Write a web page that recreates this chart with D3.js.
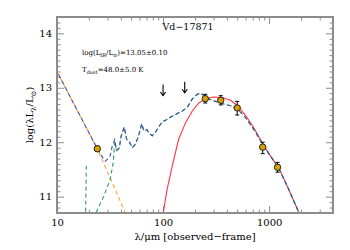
<!DOCTYPE html>
<html><head><meta charset="utf-8">
<script src="https://cdn.jsdelivr.net/npm/d3@7"></script>
<style>body{margin:0;background:#fff}svg{display:block}</style>
</head><body>
<svg id="c" width="350" height="250"></svg>
<script>
// ---- data ----
const title = "Vd\u221217871";
const xTicksMajor = [10, 100, 1000];
const yTicksMajor = [11, 12, 13, 14];

// photometry (observed-frame wavelength in micron, log luminosity)
const photWave = [24, 250, 350, 500, 870, 1200];
const photLum  = [11.88, 12.80, 12.77, 12.63, 11.91, 11.54];
const photErrUp = [0.05, 0.08, 0.085, 0.12, 0.09, 0.09];
const photErrLo = [0.05, 0.08, 0.085, 0.13, 0.12, 0.09];

// upper limits
const ulWave = [100, 160];
const ulLum  = [13.06, 13.11];

// total SED (blue dashed)
const totWave = [10, 15, 23.7, 26.5, 28.5, 30.4, 31.7, 33.1, 35.0, 36.5, 38.6, 40.3, 43.0, 45.4, 48.0, 51.2, 54.7, 58.4, 63.0, 65.8, 70.3, 74.2, 79.2, 84.6, 90.3, 98.5, 105, 117, 131, 151, 169, 188, 210, 225, 251, 280, 312, 361, 433, 505, 601, 715, 889, 1035, 1233, 1532, 1905];
const totLum  = [13.30, 12.64, 11.90, 11.74, 11.65, 11.70, 11.75, 11.92, 12.05, 11.85, 11.90, 12.12, 12.28, 12.05, 12.01, 11.90, 11.96, 12.10, 12.34, 12.21, 12.23, 12.16, 12.12, 12.18, 12.27, 12.38, 12.40, 12.46, 12.51, 12.57, 12.64, 12.79, 12.88, 12.90, 12.84, 12.78, 12.75, 12.71, 12.67, 12.61, 12.45, 12.24, 11.93, 11.74, 11.52, 11.13, 10.71];

// starburst template (green dashed); null marks a gap
const sbWave = [18.9, 18.8, 18.6, null, 23.4, 27.2, 31.7, 33.9, 35.0, 36.5, 38.6, 40.3, 43.0, 45.4, 48.0, 51.2, 54.7, 58.4, 63.0, 65.8, 70.3, 74.2, 79.2, 84.6, 90.3, 98.5, 105, 117, 131, 151, 169, 188, 210, 225, 251, 280, 312, 361, 433, 505, 601, 715, 889, 1035, 1233, 1532, 1905];
const sbLum  = [11.57, 11.20, 10.70, null, 10.71, 10.98, 11.31, 11.63, 12.01, 11.84, 11.89, 12.11, 12.28, 12.05, 12.01, 11.90, 11.96, 12.10, 12.34, 12.21, 12.23, 12.16, 12.12, 12.18, 12.27, 12.38, 12.40, 12.46, 12.51, 12.57, 12.64, 12.79, 12.88, 12.90, 12.84, 12.78, 12.75, 12.71, 12.67, 12.61, 12.45, 12.24, 11.93, 11.74, 11.52, 11.13, 10.71];

// AGN power law (orange dashed)
const agnWave = [10, 15, 23.7, 30, 38, 44];
const agnLum  = [13.30, 12.64, 11.90, 11.45, 10.99, 10.70];

// modified blackbody (red solid)
const bbWave = [100.6, 109, 122, 140, 163, 188, 217, 251, 301, 361, 433, 505, 601, 715, 889, 1035, 1233, 1532, 1905];
const bbLum  = [10.71, 11.13, 11.56, 12.05, 12.36, 12.57, 12.72, 12.80, 12.83, 12.82, 12.77, 12.67, 12.49, 12.27, 11.94, 11.74, 11.53, 11.13, 10.71];

// ---- drawing ----
const W = 350, H = 250;
const m = {l: 57, r: 17, t: 17, b: 37};
const svg = d3.select("#c");
const x = d3.scaleLog().domain([10, 4000]).range([m.l, W - m.r]);
const y = d3.scaleLinear().domain([10.7, 14.3]).range([H - m.b, m.t]);
const FONT = "'DejaVu Serif', 'Liberation Serif', serif";
const axCol = "#8c8c8c";

svg.append("defs").append("clipPath").attr("id", "clip")
  .append("rect").attr("x", m.l).attr("y", m.t)
  .attr("width", W - m.l - m.r).attr("height", H - m.t - m.b);

const xMinor = [];
[10, 100, 1000].forEach(d => { for (let k = 2; k <= 9; k++) if (d * k <= 4000) xMinor.push(d * k); });
const yMinor = d3.range(107, 144).map(v => v / 10).filter(v => Math.abs(v - Math.round(v)) > 1e-6);

function styleAxis(g) {
  g.select(".domain").remove();
  g.selectAll(".tick line").attr("stroke", axCol).attr("stroke-width", 1);
  g.selectAll("text").attr("font-family", FONT).attr("font-size", 10).attr("fill", "#000");
}
const pBot = H - m.b, pTop = m.t, pLeft = m.l, pRight = W - m.r;
// bottom
svg.append("g").attr("transform", `translate(0,${pBot})`)
  .call(d3.axisBottom(x).tickValues(xTicksMajor).tickFormat(d3.format("d")).tickSizeInner(-7).tickSizeOuter(0).tickPadding(6)).call(styleAxis);
svg.append("g").attr("transform", `translate(0,${pBot})`)
  .call(d3.axisBottom(x).tickValues(xMinor).tickFormat("").tickSizeInner(-3.5).tickSizeOuter(0)).call(styleAxis);
// top
svg.append("g").attr("transform", `translate(0,${pTop})`)
  .call(d3.axisTop(x).tickValues(xTicksMajor).tickFormat("").tickSizeInner(-7).tickSizeOuter(0)).call(styleAxis);
svg.append("g").attr("transform", `translate(0,${pTop})`)
  .call(d3.axisTop(x).tickValues(xMinor).tickFormat("").tickSizeInner(-3.5).tickSizeOuter(0)).call(styleAxis);
// left
svg.append("g").attr("transform", `translate(${pLeft},0)`)
  .call(d3.axisLeft(y).tickValues(yTicksMajor).tickFormat(d3.format("d")).tickSizeInner(-7).tickSizeOuter(0).tickPadding(5)).call(styleAxis);
svg.append("g").attr("transform", `translate(${pLeft},0)`)
  .call(d3.axisLeft(y).tickValues(yMinor).tickFormat("").tickSizeInner(-3.5).tickSizeOuter(0)).call(styleAxis);
// right
svg.append("g").attr("transform", `translate(${pRight},0)`)
  .call(d3.axisRight(y).tickValues(yTicksMajor).tickFormat("").tickSizeInner(-7).tickSizeOuter(0)).call(styleAxis);
svg.append("g").attr("transform", `translate(${pRight},0)`)
  .call(d3.axisRight(y).tickValues(yMinor).tickFormat("").tickSizeInner(-3.5).tickSizeOuter(0)).call(styleAxis);

// curves
const plot = svg.append("g").attr("clip-path", "url(#clip)");
const line = d3.line().defined(d => d[0] != null && d[1] != null).x(d => x(d[0])).y(d => y(d[1]));
const zip = (a, b) => a.map((v, i) => [v, b[i]]);

plot.append("path").datum(zip(bbWave, bbLum)).attr("d", line)
  .attr("fill", "none").attr("stroke", "#ff3344").attr("stroke-width", 1.1);
plot.append("path").datum(zip(agnWave, agnLum)).attr("d", line)
  .attr("fill", "none").attr("stroke", "#ff9f40").attr("stroke-width", 1.1).attr("stroke-dasharray", "4,3");
plot.append("path").datum(zip(sbWave, sbLum)).attr("d", line)
  .attr("fill", "none").attr("stroke", "#2e9a5e").attr("stroke-width", 1.1).attr("stroke-dasharray", "4,3");
plot.append("path").datum(zip(totWave, totLum)).attr("d", line)
  .attr("fill", "none").attr("stroke", "#3a4ea8").attr("stroke-width", 1.1).attr("stroke-dasharray", "4,3").attr("stroke-dashoffset", 3.5);

// frame
svg.append("rect").attr("x", pLeft).attr("y", pTop).attr("width", pRight - pLeft).attr("height", pBot - pTop)
  .attr("fill", "none").attr("stroke", axCol).attr("stroke-width", 2);

// upper-limit arrows
const ul = svg.append("g");
zip(ulWave, ulLum).forEach(([w, l]) => {
  const px = x(w), py = y(l);
  ul.append("line").attr("x1", px).attr("x2", px).attr("y1", py).attr("y2", py + 11).attr("stroke", "#000").attr("stroke-width", 1.1);
  ul.append("path").attr("d", `M${px - 2.6},${py + 7.5} L${px},${py + 11} L${px + 2.6},${py + 7.5}`).attr("fill", "none").attr("stroke", "#000").attr("stroke-width", 1.1);
});

// photometry with error bars
const pts = svg.append("g");
photWave.forEach((w, i) => {
  const px = x(w), py = y(photLum[i]);
  const y1 = y(photLum[i] + photErrUp[i]), y2 = y(photLum[i] - photErrLo[i]);
  pts.append("line").attr("x1", px).attr("x2", px).attr("y1", y1).attr("y2", y2).attr("stroke", "#000").attr("stroke-width", 1);
  pts.append("line").attr("x1", px - 2).attr("x2", px + 2).attr("y1", y1).attr("y2", y1).attr("stroke", "#000").attr("stroke-width", 1);
  pts.append("line").attr("x1", px - 2).attr("x2", px + 2).attr("y1", y2).attr("y2", y2).attr("stroke", "#000").attr("stroke-width", 1);
  pts.append("circle").attr("cx", px).attr("cy", py).attr("r", 3.2).attr("fill", "#d9a000").attr("stroke", "#222").attr("stroke-width", 1);
});

// title
svg.append("text").attr("x", 188).attr("y", 30).attr("text-anchor", "middle")
  .attr("font-family", FONT).attr("font-size", 9.5).text(title);

// annotations
const a1 = svg.append("text").attr("x", 82).attr("y", 55).attr("font-family", FONT).attr("font-size", 7);
a1.append("tspan").text("log(L");
a1.append("tspan").attr("font-size", 5).attr("dy", 1.8).text("IR");
a1.append("tspan").attr("dy", -1.8).text("/L");
a1.append("tspan").attr("font-size", 5).attr("dy", 1.8).text("\u2299");
a1.append("tspan").attr("dy", -1.8).text(")=13.05\u00b10.10");
const a2 = svg.append("text").attr("x", 82).attr("y", 72).attr("font-family", FONT).attr("font-size", 7);
a2.append("tspan").text("T");
a2.append("tspan").attr("font-size", 5).attr("dy", 1.8).text("dust");
a2.append("tspan").attr("dy", -1.8).text("=48.0\u00b15.0 K");

// axis titles
svg.append("text").attr("x", 195).attr("y", 240).attr("text-anchor", "middle")
  .attr("font-family", FONT).attr("font-size", 10).text("\u03bb/\u03bcm [observed\u2212frame]");
const yl = svg.append("text").attr("transform", `translate(33,${(pTop + pBot) / 2}) rotate(-90)`)
  .attr("text-anchor", "middle").attr("font-family", FONT).attr("font-size", 10);
yl.append("tspan").text("log(\u03bbL");
yl.append("tspan").attr("font-size", 7).attr("dy", 2.5).text("\u03bb");
yl.append("tspan").attr("dy", -2.5).text("/L");
yl.append("tspan").attr("font-size", 7).attr("dy", 2.5).text("\u2299");
yl.append("tspan").attr("dy", -2.5).text(")");
</script>
</body></html>
